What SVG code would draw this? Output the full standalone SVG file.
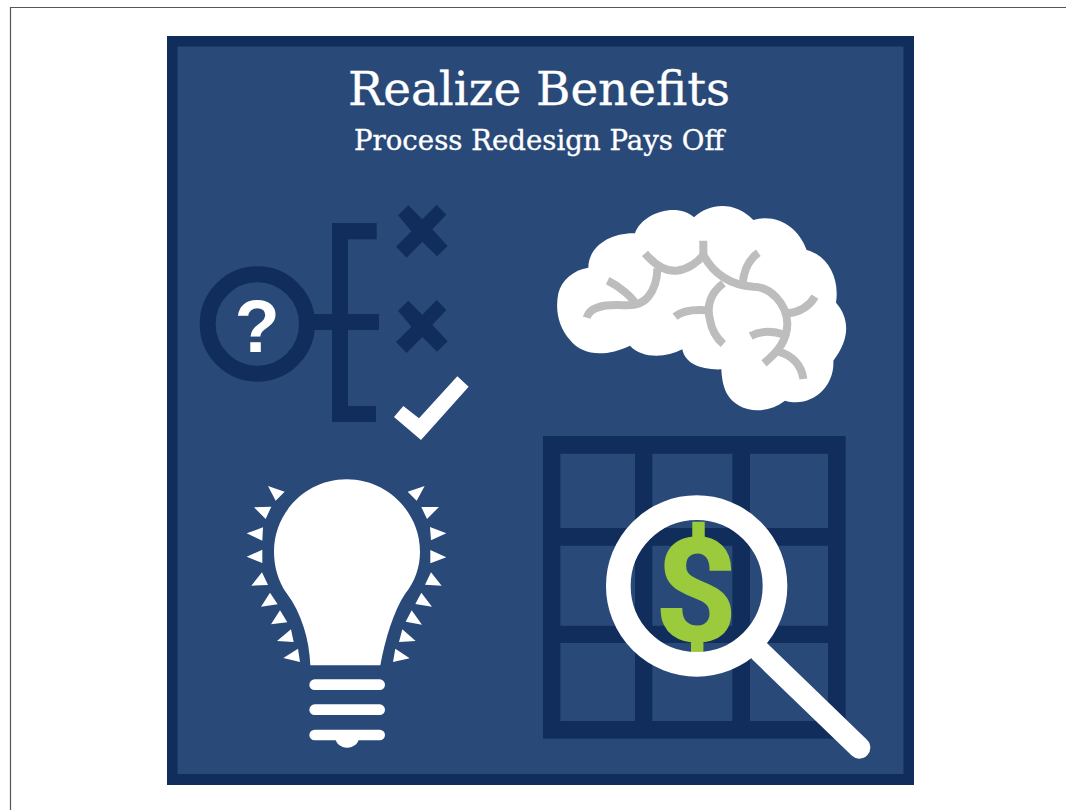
<svg xmlns="http://www.w3.org/2000/svg" width="1066" height="810" viewBox="0 0 1066 810">
<style>
.dark{fill:#112d5b}.bg{fill:#294979}.w{fill:#fff}
.fold{fill:none;stroke:#bdbdbd;stroke-width:24}
.t{fill:#fff;stroke:#fff;stroke-width:.35;font-family:"DejaVu Serif",serif;text-anchor:middle}
.b{font-family:"Liberation Sans",Arial,sans-serif;font-weight:700;text-anchor:middle}
</style>
<defs><polygon id="x" points="655,46 697,88 740,44 769,74 727,118 773,168 741,199 697,155 650,203 618,170 664,124 624,76"/></defs>
<rect width="1066" height="810" fill="#fff"/>
<path d="M10.500 810V7.500H1066" fill="none" stroke="#555" stroke-width="1.200"/>
<g id="panel">
<rect x="167" y="36" width="747" height="749" class="dark"/>
<rect x="177.500" y="46.500" width="726" height="727.500" class="bg"/>
</g>
<g id="title">
<text class="t" x="539" y="105" font-size="47" textLength="382" lengthAdjust="spacingAndGlyphs">Realize Benefits</text>
<text class="t" x="539" y="150" font-size="27" textLength="370" lengthAdjust="spacingAndGlyphs">Process Redesign Pays Off</text>
</g>
<g id="decision" transform="translate(190 190) scale(.33333)">
<circle cx="202" cy="402" r="149" fill="none" stroke="#112d5b" stroke-width="48"/>
<path class="dark" d="M426,99H560V148H474V372H567V420H474V648H558V696H426V420H360V372H426Z"/>
<use href="#x" class="dark"/>
<use href="#x" class="dark" y="286"/>
<polygon class="w" points="612,681 640,648 687,685 802,559 836,590 693,750"/>
</g>
<text id="question" class="b w" x="257" y="352" font-size="74">?</text>
<g id="brain" transform="translate(540 190) scale(.33333)">
<path class="w" d="M145,233C145,170 210,128 285,130C305,70 410,35 462,82C510,35 590,35 640,90C710,70 775,110 800,180C860,195 900,260 888,338C925,380 935,440 880,512C885,590 815,655 735,632C670,680 590,665 560,610C548,585 545,560 544,538C480,540 435,520 427,478C375,505 305,505 270,467C200,500 130,500 90,450C55,410 45,360 55,310C65,270 100,240 145,233Z"/>
<path class="fold" d="M140,383C150,350 190,345 230,345C270,347 300,350 325,320C345,295 352,260 352,235"/>
<path class="fold" d="M315,190C345,225 375,245 410,242C445,238 475,215 490,195V152"/>
<path class="fold" d="M490,195C520,250 570,285 640,290C690,290 740,340 742,400C742,450 715,485 672,520"/>
<path class="fold" d="M203,272C240,290 275,320 290,345"/>
<path class="fold" d="M655,188C625,210 610,240 608,285"/>
<path class="fold" d="M550,280C510,310 500,350 510,390C515,420 530,445 550,462"/>
<path class="fold" d="M405,380C430,360 470,358 510,362"/>
<path class="fold" d="M825,320C810,345 785,365 745,370"/>
<path class="fold" d="M632,438C665,420 700,423 735,435"/>
<path class="fold" d="M715,485C755,495 785,525 790,567"/>
</g>
<g id="bulb" class="w" transform="translate(230 470) scale(.33333)">
<path d="M241,586C238,510 215,430 170,370C145,335 132,290 132,245C132,125 230,28 350,28C470,28 570,125 570,245C570,290 555,335 525,372C490,425 465,510 451,586Z"/>
<rect x="238" y="628" width="227" height="32" rx="16"/>
<rect x="238" y="703" width="227" height="32" rx="16"/>
<rect x="238" y="779" width="227" height="32" rx="16"/>
<path d="M316,805H387C385,822 370,833 351,833C333,833 318,822 316,805Z"/>
<path d="M114,48L164,65 137,92ZM72,112L124,110 107,147ZM50,190L99,172 97,212ZM50,260L97,239 97,279ZM64,347L96,307 114,345ZM93,410L120,368 143,403ZM123,463L150,421 172,457ZM141,513L183,478 191,516ZM160,564L204,536 210,576Z"/>
<path d="M584,48L533,65 560,92ZM574,111L627,111 591,147ZM600,171L649,190 603,211ZM601,240L649,262 601,280ZM603,307L635,347 585,344ZM574,368L606,410 556,402ZM545,421L576,464 527,455ZM517,478L557,513 507,516ZM496,536L539,565 489,576Z"/>
</g>
<g id="grid" transform="translate(530 425) scale(.33333)">
<rect class="dark" x="39" y="33" width="908" height="908"/>
<path class="bg" d="M91,86H315V309H91ZM367,86H607V309H367ZM660,86H894V309H660ZM91,362H315V602H91ZM367,362H607V602H367ZM660,362H894V602H660ZM91,654H315V888H91ZM367,654H607V888H367ZM660,654H894V888H660Z"/>
</g>
<text id="dollar" x="696" y="641" font-size="143" font-family="Roboto,'Liberation Sans',sans-serif" font-weight="700" text-anchor="middle" fill="#9bcb3c" stroke="#9bcb3c" stroke-width="1.500">$</text>
<g id="magnifier" transform="translate(530 425) scale(.33333)">
<line x1="690" y1="680" x2="988" y2="968" stroke="#fff" stroke-width="66" stroke-linecap="round"/>
<circle cx="500" cy="483" r="235" fill="none" stroke="#fff" stroke-width="74"/>
</g>
</svg>
